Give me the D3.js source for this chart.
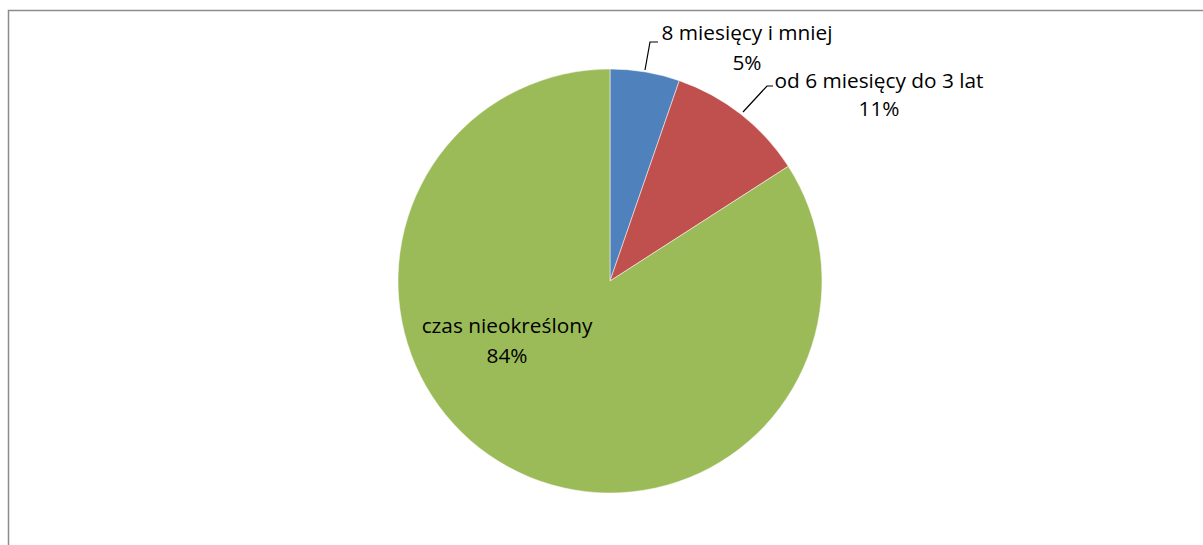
<!DOCTYPE html>
<html><head><meta charset="utf-8">
<script src="https://cdn.jsdelivr.net/npm/d3@7"></script>
<style>body{margin:0;background:#fff}svg{display:block}</style>
</head><body>
<script>
const categories = ["8 miesięcy i mniej", "od 6 miesięcy do 3 lat", "czas nieokreślony"];
const values = [5.3, 10.6, 84.1];
const percentLabels = ["5%", "11%", "84%"];
const colors = ["#4F81BD", "#C0504D", "#9BBB59"];

const W = 1203, H = 545;
const cx = 610, cy = 281, R = 212;
const svg = d3.select("body").append("svg").attr("width", W).attr("height", H);

// chart frame (cut off at right and bottom)
svg.append("path").attr("d", `M8.5,${H+2} L8.5,10.5 L${W+2},10.5`)
  .attr("fill", "none").attr("stroke", "#8c8c8c").attr("stroke-width", 1.5);

const pie = d3.pie().sort(null).value(d => d)(values);
const arc = d3.arc().innerRadius(0).outerRadius(R);
const g = svg.append("g").attr("transform", `translate(${cx},${cy})`);
g.selectAll("path").data(pie).join("path")
  .attr("d", arc).attr("fill", (d, i) => colors[i])
  .attr("stroke", "#fff").attr("stroke-width", 0.5);

// label layout (positions only)
const labelPos = [
  {x: 747, y1: 40, y2: 70, line: [[645,70],[650,42],[658,42]]},
  {x: 879, y1: 88, y2: 116, line: [[743,112],[767,86],[773,86]]},
  {x: 507, y1: 333, y2: 363, line: null}
];
const font = "'Liberation Sans Narrow', 'Open Sans', sans-serif";
pie.forEach((d, i) => {
  const p = labelPos[i];
  if (p.line) {
    svg.append("path").attr("d", d3.line()(p.line)).attr("fill", "none")
      .attr("stroke", "#000").attr("stroke-width", 1.2);
  }
  const t = svg.append("text").attr("text-anchor", "middle")
    .attr("font-family", font).attr("font-size", 20.8).attr("fill", "#000");
  t.append("tspan").attr("x", p.x).attr("y", p.y1).text(categories[i]);
  t.append("tspan").attr("x", p.x).attr("y", p.y2).text(percentLabels[i]);
});
</script>
</body></html>
